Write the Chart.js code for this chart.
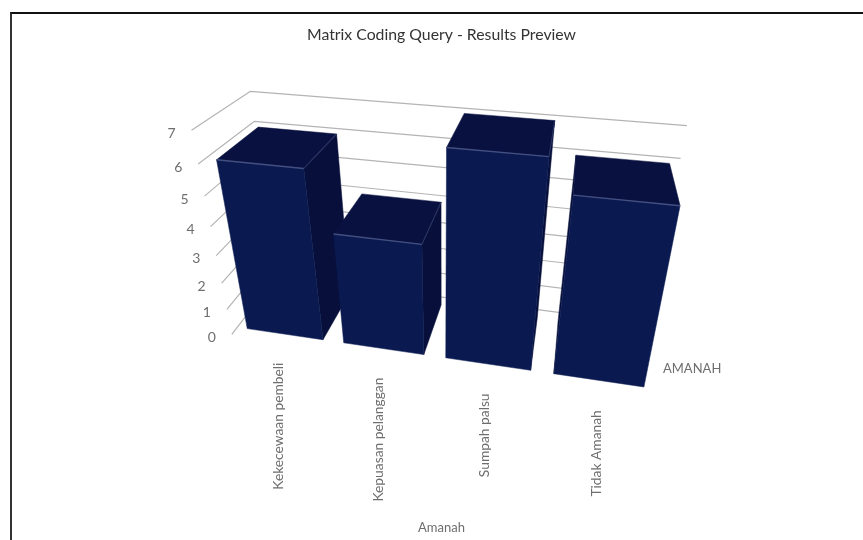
<!DOCTYPE html>
<html>
<head>
<meta charset="utf-8">
<title>Matrix Coding Query</title>
<script src="https://cdn.jsdelivr.net/npm/chart.js@4"></script>
<style>
  body { margin: 0; background: #fff; }
  #frame { position: absolute; left: 10px; top: 12px; right: 0; bottom: 0; border-top: 2px solid #111; border-left: 2px solid #333; }
  #wrap { position: absolute; left: 0; top: 0; width: 863px; height: 540px; }
</style>
</head>
<body>
<div id="frame"></div>
<div id="wrap"><canvas id="grafico" width="863" height="540"></canvas></div>
<script>
var categorias = ['Kekecewaan pembeli', 'Kepuasan pelanggan', 'Sumpah palsu', 'Tidak Amanah'];
var amanah = [6, 4, 7, 6];
var valorMax = 7;

// camera matrix: (u, v, w) -> screen, u and w run 0..1, v is the axis value
var cam = [352.857, -10.158, 84.769, 231.805,
           19.648, -32.165, -19.568, 334.434,
           -0.110493, -0.022988, 0.142491];
var depthFront = 0.11, depthBack = 0.87;

var corFrente = '#0a1a50', corTopo = '#08113f', corLado = '#070f3a';
var corAresta = '#434f80', corGrade = '#b4b4b4', corTexto = '#6e6e6e';

function projeta(u, v, w) {
    var d = cam[8] * u + cam[9] * v + cam[10] * w + 1;
    return {
        x: (cam[0] * u + cam[1] * v + cam[2] * w + cam[3]) / d,
        y: (cam[4] * u + cam[5] * v + cam[6] * w + cam[7]) / d
    };
}

function poligono(ctx, pts, cor) {
    ctx.beginPath();
    pts.forEach(function (p, i) { i ? ctx.lineTo(p.x, p.y) : ctx.moveTo(p.x, p.y); });
    ctx.closePath();
    ctx.fillStyle = cor;
    ctx.strokeStyle = cor;
    ctx.lineWidth = 0.5;
    ctx.fill();
    ctx.stroke();
}

function linha(ctx, pts, cor, larg) {
    ctx.beginPath();
    pts.forEach(function (p, i) { i ? ctx.lineTo(p.x, p.y) : ctx.moveTo(p.x, p.y); });
    ctx.strokeStyle = cor;
    ctx.lineWidth = larg;
    ctx.stroke();
}

// face is drawn only when it turns to the viewer
function areaSinal(p) {
    var s = 0;
    for (var i = 0; i < p.length; i++) {
        var q = p[(i + 1) % p.length];
        s += p[i].x * q.y - q.x * p[i].y;
    }
    return s;
}

var caixa3d = {
    id: 'caixa3d',
    afterDatasetsDraw: function (chart) {
        var ctx = chart.ctx, area = chart.chartArea, sy = chart.scales.y;
        var meta = chart.getDatasetMeta(0);
        var paraU = function (px) { return (px - area.left) / (area.right - area.left); };
        var paraV = function (py) { return sy.getValueForPixel(py); };

        ctx.save();
        ctx.lineJoin = 'round';

        // wall lines and value labels
        ctx.font = '14px Lato';
        ctx.textAlign = 'center';
        ctx.textBaseline = 'middle';
        sy.getTicks().forEach(function (t) {
            var a = projeta(0, t.value, 0), b = projeta(0, t.value, 1), c = projeta(1, t.value, 1);
            linha(ctx, [a, b, c], corGrade, 1.2);
            ctx.fillStyle = corTexto;
            ctx.fillText(String(t.value), a.x - 20, a.y + 3);
        });

        // boxes, left to right
        meta.data.forEach(function (el, i) {
            var l = paraU(el.x - el.width / 2), r = paraU(el.x + el.width / 2);
            var top = paraV(el.y), base = paraV(el.base);
            var ftl = projeta(l, top, depthFront), ftr = projeta(r, top, depthFront);
            var btl = projeta(l, top, depthBack), btr = projeta(r, top, depthBack);
            var fbl = projeta(l, base, depthFront), fbr = projeta(r, base, depthFront);
            var bbl = projeta(l, base, depthBack), bbr = projeta(r, base, depthBack);

            var esq = [btl, ftl, fbl, bbl], dir = [ftr, btr, bbr, fbr];
            if (areaSinal(esq) > 0) poligono(ctx, esq, corLado);
            if (areaSinal(dir) > 0) poligono(ctx, dir, corLado);
            poligono(ctx, [ftl, ftr, btr, btl], corTopo);
            poligono(ctx, [ftl, ftr, fbr, fbl], corFrente);
            linha(ctx, [ftl, ftr], corAresta, 1.4);
            if (areaSinal(dir) > 0) linha(ctx, [ftr, btr], '#27325f', 1.2);

            // category label under the box
            var pe = projeta(paraU(el.x), base, 0);
            ctx.save();
            ctx.translate(pe.x - 1.5, pe.y + 21);
            ctx.rotate(-Math.PI / 2);
            ctx.textAlign = 'right';
            ctx.textBaseline = 'middle';
            ctx.font = '13.8px Lato';
            ctx.fillStyle = corTexto;
            ctx.fillText(categorias[i], 0, 0);
            ctx.restore();
        });

        // series name on the depth axis
        ctx.font = '13px Lato';
        ctx.textAlign = 'left';
        ctx.fillStyle = corTexto;
        ctx.fillText(chart.data.datasets[0].label, 663, 369);
        ctx.restore();
    }
};

new Chart(document.getElementById('grafico'), {
    type: 'bar',
    data: {
        labels: categorias,
        datasets: [{
            label: 'AMANAH',
            data: amanah,
            backgroundColor: 'transparent',
            categoryPercentage: 1,
            barPercentage: 0.79
        }]
    },
    options: {
        responsive: false,
        animation: false,
        layout: { padding: { left: 20, bottom: 0 } },
        plugins: {
            legend: { display: false },
            tooltip: { enabled: false },
            title: {
                display: true,
                text: 'Matrix Coding Query - Results Preview',
                color: '#333',
                font: { family: 'Lato', size: 15.8, weight: 'normal' },
                padding: { top: 25, bottom: 10 }
            }
        },
        scales: {
            x: {
                grid: { display: false },
                border: { display: false },
                ticks: { display: false },
                title: { display: true, text: 'Amanah', color: corTexto, font: { family: 'Lato', size: 13 } }
            },
            y: {
                display: false,
                min: 0,
                max: valorMax,
                ticks: { stepSize: 1 }
            }
        }
    },
    plugins: [caixa3d]
});
</script>
</body>
</html>
